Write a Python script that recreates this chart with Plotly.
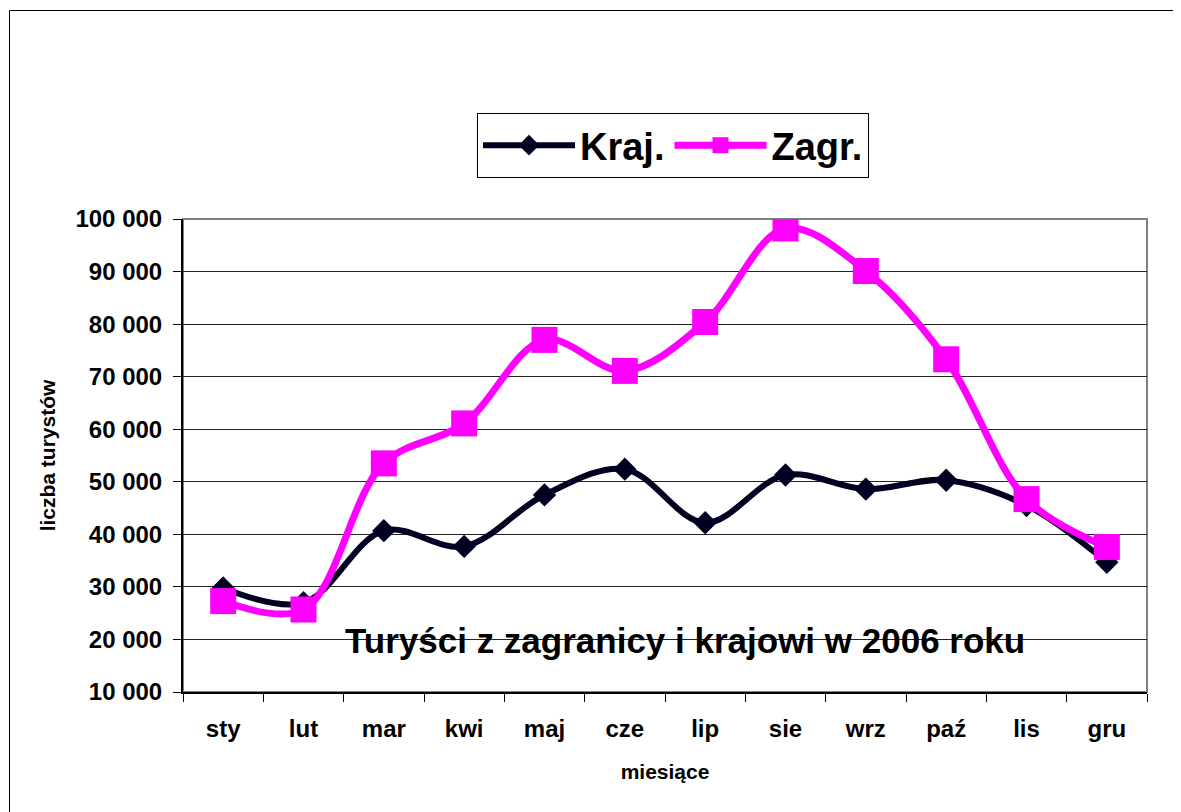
import plotly.graph_objects as go

months = ['sty', 'lut', 'mar', 'kwi', 'maj', 'cze', 'lip', 'sie', 'wrz', 'paź', 'lis', 'gru']
kraj = [29800, 27000, 40700, 37700, 47500, 52400, 42200, 51300, 48600, 50300, 45500, 34700]
zagr = [27300, 25700, 53500, 61100, 77000, 71100, 80400, 98200, 90100, 73300, 46700, 37600]
series_names = ['Kraj.', 'Zagr.']
chart_title = 'Turyści z zagranicy i krajowi w 2006 roku'
x_title = 'miesiące'
y_title = 'liczba turystów'

FONT = 'Liberation Sans, Arial, sans-serif'

OFF = 8  # page body margin
W, H = 1181 - OFF, 812 - OFF
# plot area on screen: x 183..1147, y 219..692
L, T = 183 - OFF, 219 - OFF
R = W - (1147 - OFF)
B = H - (692 - OFF)
pw, ph = W - L - R, H - T - B

def px(x):
    return (x - OFF - L) / pw

def py(y):
    return (H - B - (y - OFF)) / ph

fig = go.Figure()
fig.add_trace(go.Scatter(
    x=months, y=kraj, name=series_names[0], mode='lines+markers',
    line=dict(color='#000020', width=6, shape='spline', smoothing=1),
    marker=dict(symbol='diamond', size=18, color='#000020'),
))
fig.add_trace(go.Scatter(
    x=months, y=zagr, name=series_names[1], mode='lines+markers',
    line=dict(color='#FF00FF', width=7, shape='spline', smoothing=1),
    marker=dict(symbol='square', size=26, color='#FF00FF'),
))

fig.update_layout(
    width=W, height=H,
    margin=dict(l=L, r=R, t=T, b=B, autoexpand=False),
    paper_bgcolor='white', plot_bgcolor='white',
    font=dict(family=FONT, color='black'),
    separators='. ',
    showlegend=True,
    legend=dict(
        orientation='h', x=px(477), y=py(113), xanchor='left', yanchor='top',
        bordercolor='black', borderwidth=1, bgcolor='white',
        font=dict(size=38, family=FONT, color='black', weight='bold'),
        itemwidth=92, tracegroupgap=0,
    ),
    xaxis=dict(
        type='category', range=[-0.5, 11.5],
        showline=True, linecolor='black', linewidth=2,
        ticks='outside', ticklen=8, tickcolor='black', tickwidth=1,
        tickson='boundaries', showgrid=False,
        tickfont=dict(size=24, family=FONT, weight='bold'),
        ticklabelstandoff=14,
        title=dict(text=x_title, font=dict(size=21, family=FONT, weight='bold'), standoff=24),
        zeroline=False,
    ),
    yaxis=dict(
        range=[10000, 100000], dtick=10000, tick0=10000, tickformat=',d',
        showline=True, linecolor='black', linewidth=2,
        ticks='outside', ticklen=8, tickcolor='black', tickwidth=1,
        showgrid=True, gridcolor='#222222', gridwidth=1,
        tickfont=dict(size=24, family=FONT, weight='bold'),
        ticklabelstandoff=6,
        title=dict(text=y_title, font=dict(size=21, family=FONT, weight='bold'), standoff=14),
        zeroline=False,
    ),
    shapes=[
        dict(type='rect', xref='paper', yref='paper', x0=0, x1=1, y0=0, y1=1,
             line=dict(color='#808080', width=2), layer='below'),
        dict(type='rect', xref='paper', yref='paper', x0=px(9.5), x1=px(1195), y0=py(10.5), y1=py(830),
             line=dict(color='black', width=1), layer='below'),
    ],
    annotations=[
        dict(text=chart_title, xref='paper', yref='paper', x=px(685), y=py(640),
             xanchor='center', yanchor='middle', showarrow=False,
             font=dict(size=35, family=FONT, color='black', weight='bold')),
    ],
)

fig.write_html('out.html')
